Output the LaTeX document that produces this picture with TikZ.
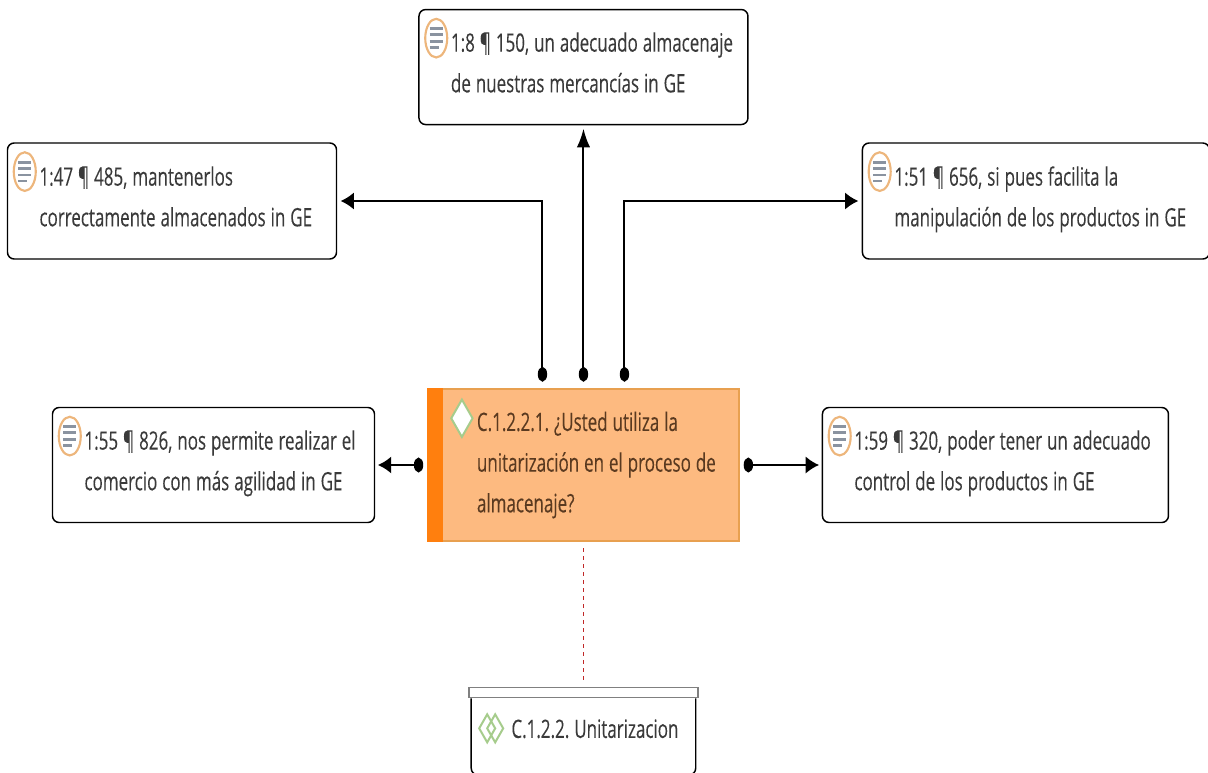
\documentclass[tikz,border=0pt]{standalone}
\usepackage{fontspec}
\setmainfont[FakeStretch=0.67,FakeBold=0.15]{Open Sans}
\usetikzlibrary{positioning,arrows.meta}
\definecolor{quoteink}{HTML}{3A3A3A}
\definecolor{codeink}{HTML}{5A3A20}
\definecolor{codefill}{HTML}{FDBA80}
\definecolor{codeedge}{HTML}{E8A050}
\definecolor{codestripe}{HTML}{FF7F0E}
\definecolor{ringcolor}{HTML}{EDB67C}
\definecolor{diamondcolor}{HTML}{A6CC8C}
\definecolor{linkred}{HTML}{C02828}
\definecolor{docgray}{HTML}{8A93A0}
\newcommand{\boxfont}{\fontsize{19}{30.5}\selectfont}

\begin{document}
\begin{tikzpicture}[
		node distance=0pt,
		tightwords/.style={execute at begin node={\spaceskip=3.7pt\xspaceskip=3.7pt\relax}},
		quotebox/.style={draw=black, line width=1.1pt, rounded corners=5pt, align=left, text=quoteink, inner xsep=24pt, inner ysep=0pt, text depth=37.5pt, font=\boxfont, tightwords},
		uplink/.style={line width=1.5pt, shorten >=2.5pt, {Circle[length=11pt,width=7pt]}-{Latex[length=14pt,width=10pt]}},
		elbowlink/.style={line width=1.5pt, shorten >=2.5pt, {Circle[length=11pt,width=7pt]}-{Latex[length=10pt,width=13pt]}},
		sidelink/.style={line width=1.5pt, shorten >=2pt, {Circle[length=7pt,width=11pt]}-{Latex[length=10pt,width=13pt]}},
		docicon/.pic={
			\draw[ringcolor, line width=1.6pt, fill=white] (0,0) ellipse (8.25pt and 14.5pt);
			\foreach \y/\w in {7/5, 2.5/5, -2.5/5, -7/2}
				\draw[docgray, line width=2pt] (-5pt,\y pt) -- (\w pt,\y pt);
		},
	]
	\useasboundingbox (0,0) rectangle (906pt,-579pt);

	\node[draw=codeedge, fill=codefill, line width=1.1pt, minimum width=233.25pt, minimum height=114pt, inner sep=0pt, text width=159.75pt, align=left, text=codeink, font=\boxfont, text depth=65.5pt, tightwords] (main) at (437.6pt,-348.75pt) {\mbox{C.1.2.2.1. ¿Usted utiliza la}\\ \mbox{unitarización en el proceso de}\\ \mbox{almacenaje?}};
	\fill[codestripe] (main.north west) rectangle ([xshift=12pt]main.south west);

	\node[quotebox, minimum width=246.75pt, minimum height=86.25pt, text width=198.75pt, above=197.25pt of main] (almacenaje) {\mbox{1:8 ¶ 150, un adecuado almacenaje}\\ \mbox{de nuestras mercancías in GE}};
	\node[quotebox, minimum width=246.75pt, minimum height=87pt, text width=198.75pt, below left=12.75pt and 60.75pt of almacenaje.south west] (mantener) {\mbox{1:47 ¶ 485, mantenerlos}\\ \mbox{correctamente almacenados in GE}};
	\node[quotebox, minimum width=260.25pt, minimum height=87pt, text width=212.25pt, below right=12.75pt and 84.75pt of almacenaje.south east] (manipular) {\mbox{1:51 ¶ 656, si pues facilita la}\\ \mbox{manipulación de los productos in GE}};
	\node[quotebox, minimum width=241.5pt, minimum height=86.25pt, text width=193.5pt, left=39pt of main] (comercio) {\mbox{1:55 ¶ 826, nos permite realizar el}\\ \mbox{comercio con más agilidad in GE}};
	\node[quotebox, minimum width=259.5pt, minimum height=86.25pt, text width=211.5pt, right=61.5pt of main] (control) {\mbox{1:59 ¶ 320, poder tener un adecuado}\\ \mbox{control de los productos in GE}};

	\node[draw=gray, line width=1.2pt, minimum width=171.75pt, minimum height=7.5pt, inner sep=0pt, below=108.75pt of main] (lid) {};
	\node[minimum width=168pt, minimum height=57pt, inner sep=0pt, text width=108pt, align=left, text=quoteink, font=\boxfont, text depth=12pt, below=0pt of lid, tightwords] (group) {\mbox{C.1.2.2. Unitarizacion}};
	\draw[line width=1.1pt, rounded corners=5pt] (group.north west) -- (group.south west) -- (group.south east) -- (group.north east);

	\foreach \name in {almacenaje, mantener, manipular, comercio, control}
		\pic at ([shift={(13.5pt,-22pt)}]\name.north west) {docicon};

	\draw[diamondcolor, line width=1.5pt, fill=white] ([shift={(26pt,-22.5pt)}]main.north west) ++(-8pt,0) -- ++(8pt,14pt) -- ++(8pt,-14pt) -- ++(-8pt,-14pt) -- cycle;
	\foreach \dx in {-3, 3}
		\draw[diamondcolor, line width=1.5pt] ([shift={(\dx pt,-22.5pt)}]group.north west) ++(15pt,0) ++(-6pt,0) -- ++(6pt,10.5pt) -- ++(6pt,-10.5pt) -- ++(-6pt,-10.5pt) -- cycle;

	\coordinate (dota) at ([xshift=-30.75pt,yshift=5pt]main.north);
	\coordinate (dotb) at ([yshift=5pt]main.north);
	\coordinate (dotc) at ([xshift=30.75pt,yshift=5pt]main.north);
	\coordinate (dotd) at ([xshift=-3pt]main.west);
	\coordinate (dote) at ([xshift=3pt]main.east);

	\draw[elbowlink] (dota) |- (mantener.east);
	\draw[uplink] (dotb) -- (almacenaje.south);
	\draw[elbowlink] (dotc) |- (manipular.west);
	\draw[sidelink] (dotd) -- (comercio.east);
	\draw[sidelink] (dote) -- (control.west);
	\draw[linkred, dash pattern=on 3pt off 3pt, line width=1.1pt, shorten <=5pt, shorten >=3pt] (main.south) -- (lid.north);
\end{tikzpicture}
\end{document}
